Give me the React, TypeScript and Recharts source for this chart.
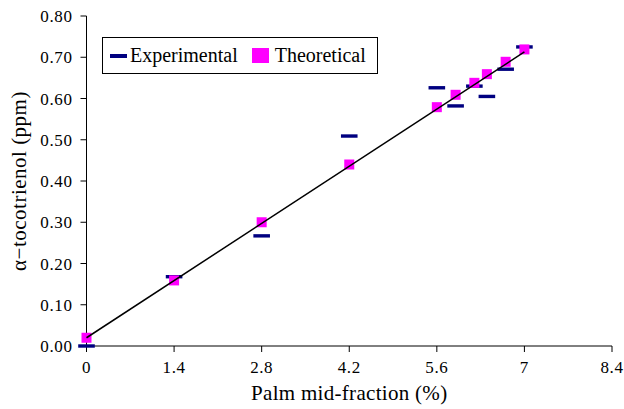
import {
  Label,
  Legend,
  Scatter,
  ScatterChart,
  XAxis,
  YAxis,
} from "recharts";

// palm mid-fraction (%) vs alpha-tocotrienol (ppm)
const fractions = [0, 1.4, 2.8, 4.2, 5.6, 5.9, 6.2, 6.4, 6.7, 7.0];
const experimental = [0.0, 0.168, 0.267, 0.509, 0.626, 0.582, 0.63, 0.605, 0.671, 0.725];
const theoretical = [0.02, 0.159, 0.3, 0.44, 0.579, 0.609, 0.638, 0.659, 0.689, 0.719];
const trendX = [0, 7];
const trendY = [0.02, 0.713];

const xTicks = [0, 1.4, 2.8, 4.2, 5.6, 7, 8.4];
const yTicks = [0, 0.1, 0.2, 0.3, 0.4, 0.5, 0.6, 0.7, 0.8];

const NAVY = "#000080";
const MAGENTA = "#ff00ff";
const SERIF = "Liberation Serif, DejaVu Serif, serif";

const expData = fractions.map((x, i) => ({ x, y: experimental[i] }));
const theoData = fractions.map((x, i) => ({ x, y: theoretical[i] }));
const trendData = trendX.map((x, i) => ({ x, y: trendY[i] }));

// 가로 대시 마커
const Dash = (p: any) => (
  <rect x={p.cx - 8.3} y={p.cy - 1.7} width={16.6} height={3.4} fill={NAVY} />
);
// 사각 마커
const Square = (p: any) => (
  <rect x={p.cx - 5} y={p.cy - 5} width={10} height={10} fill={MAGENTA} />
);

const LegendBox = () => (
  <div
    style={{
      boxSizing: "border-box",
      width: 276,
      height: 37,
      border: "1px solid #000",
      background: "#fff",
      display: "flex",
      alignItems: "center",
      fontFamily: SERIF,
      fontSize: 20,
      color: "#000",
    }}
  >
    <span style={{ width: 17, height: 4, background: NAVY, marginLeft: 7 }} />
    <span style={{ marginLeft: 3 }}>Experimental</span>
    <span style={{ width: 17, height: 15, background: MAGENTA, marginLeft: 14 }} />
    <span style={{ marginLeft: 6 }}>Theoretical</span>
  </div>
);

const tickStyle = { fontSize: 17, fill: "#000", fontFamily: SERIF, letterSpacing: 0.6 };

export default function App() {
  return (
    <div style={{ position: "absolute", left: 0, top: 0, background: "#fff", fontFamily: SERIF }}>
      <ScatterChart
        width={624}
        height={409}
        margin={{ top: 16, right: 12, bottom: 0, left: 0 }}
        style={{ fontFamily: SERIF }}
      >
        <XAxis
          type="number"
          dataKey="x"
          domain={[0, 8.4]}
          ticks={xTicks}
          interval={0}
          height={63}
          stroke="#000"
          tickSize={6}
          tickMargin={9}
          tick={tickStyle}
        >
          <Label
            value="Palm mid-fraction (%)"
            position="insideBottom"
            offset={9}
            style={{ fontSize: 21, fontFamily: SERIF, fill: "#000", letterSpacing: 0.3 }}
          />
        </XAxis>
        <YAxis
          type="number"
          dataKey="y"
          domain={[0, 0.8]}
          ticks={yTicks}
          interval={0}
          width={86.5}
          stroke="#000"
          tickSize={6}
          tickMargin={8}
          tick={tickStyle}
          tickFormatter={(v: number) => v.toFixed(2)}
        >
          <Label
            value="α−tocotrienol (ppm)"
            position="insideLeft"
            angle={-90}
            offset={19}
            style={{
              fontSize: 21,
              fontFamily: SERIF,
              fill: "#000",
              textAnchor: "middle",
              letterSpacing: 0.5,
            }}
          />
        </YAxis>
        <Legend
          layout="horizontal"
          verticalAlign="middle"
          align="center"
          content={LegendBox}
          wrapperStyle={{ position: "absolute", left: 102, top: 37, width: "auto" }}
        />
        <Scatter data={expData} shape={Dash} isAnimationActive={false} />
        <Scatter data={theoData} shape={Square} isAnimationActive={false} />
        {/* 추세선 (마커 위에) */}
        <Scatter
          data={trendData}
          line={{ stroke: "#000", strokeWidth: 1.5 }}
          shape={() => <g />}
          isAnimationActive={false}
        />
      </ScatterChart>
    </div>
  );
}
